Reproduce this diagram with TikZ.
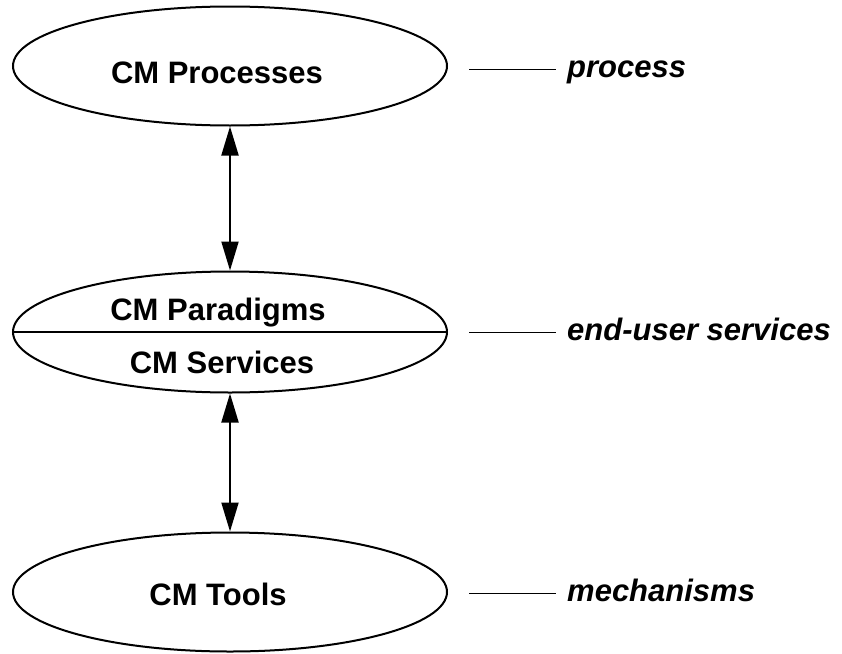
\documentclass[tikz,border=0pt]{standalone}
\usepackage{fontspec}
\setmainfont{Liberation Sans}
\usepackage{tikz}
\usetikzlibrary{arrows.meta, positioning, shapes.geometric}

\tikzset{
  layer/.style={ellipse, draw, line width=2pt, minimum width=434pt,
    minimum height=119pt, inner sep=0pt},
  layertext/.style={inner sep=0pt, font=\fontsize{31}{36}\selectfont\bfseries,
    text height=22pt, text depth=0pt},
  tag/.style={inner xsep=11pt, inner ysep=0pt,
    font=\fontsize{31}{36}\selectfont\bfseries\itshape,
    text height=16pt, text depth=0pt},
  link/.style={line width=2pt, {Triangle[length=29pt, width=17pt]}-{Triangle[length=29pt, width=17pt]}}
}

\begin{document}
\begin{tikzpicture}[x=1pt, y=-1pt]
  \useasboundingbox (0,0) rectangle (842,653);

  % Layers
  \node[layer] (procs) at (230,66) {};
  \node[layer, minimum height=121pt] (mid) at (230,332) {};
  \node[layer] (tools) at (230,592) {};

  % Layer names
  \node[layertext] (pname) at ([xshift=-13pt, yshift=-6pt]procs.center) {CM Processes};
  \node[layertext] (tname) at ([xshift=-12pt, yshift=-2pt]tools.center) {CM Tools};

  % Split of the middle layer
  \draw[line width=2pt] (mid.west) -- (mid.east);
  \node[layertext, above=11pt of mid.center, xshift=-12pt] (paradigms) {CM Paradigms};
  \node[layertext, below=19pt of mid.center, xshift=-8pt] (services) {CM Services};

  % Links between layers
  \draw[link] (procs.south) -- (mid.north);
  \draw[link] (mid.south) -- (tools.north);

  % Side tags
  \node[tag, anchor=west, right=108pt of procs.east, yshift=-3pt] (tproc) {process};
  \node[tag, anchor=west, right=108pt of mid.east] (tserv) {end-user services};
  \node[tag, anchor=west, right=108pt of tools.east, yshift=-1pt] (tmech) {mechanisms};

  \draw[line width=1pt] ([xshift=21pt]procs.east |- tproc.west) -- (tproc.west);
  \draw[line width=1pt] ([xshift=21pt]mid.east |- tserv.west) -- (tserv.west);
  \draw[line width=1pt] ([xshift=21pt]tools.east |- tmech.west) -- (tmech.west);
\end{tikzpicture}
\end{document}
